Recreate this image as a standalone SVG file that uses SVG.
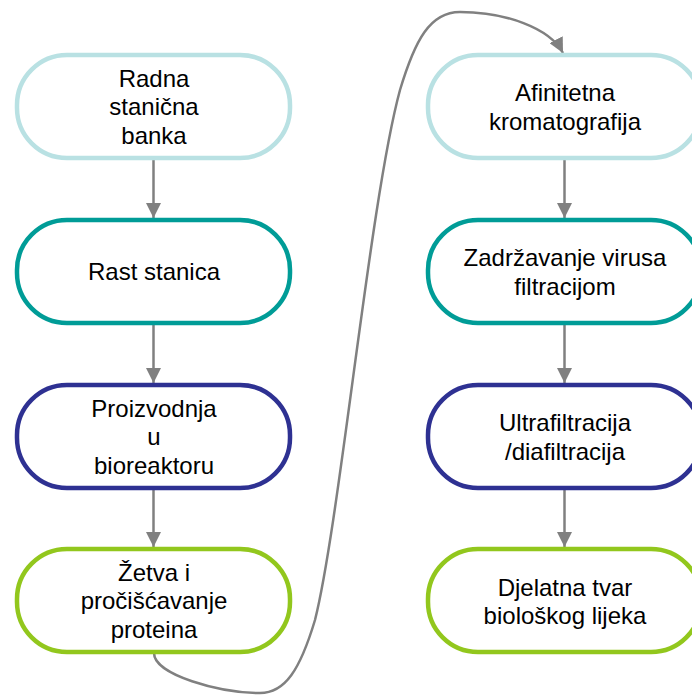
<svg xmlns="http://www.w3.org/2000/svg" width="692" height="695" viewBox="0 0 692 695">
<style>
.n{fill:#fff;stroke-width:4.5}
.c1{stroke:#b9e1e3}.c2{stroke:#009c97}.c3{stroke:#2e3192}.c4{stroke:#92c71d}
text{font-family:"Liberation Sans",Arial,sans-serif;font-size:24px;fill:#000;text-anchor:middle}
.e{fill:none;stroke:#808080;stroke-width:2.5}
</style>
<defs>
<marker id="ah" viewBox="0 0 10 10" refX="10" refY="5" markerWidth="6" markerHeight="6" markerUnits="strokeWidth" orient="auto">
<path d="M0,0 L10,5 L0,10 z" fill="#808080"/>
</marker>
</defs>
<g id="connectors">
<path class="e" d="M153.5,158 V218" marker-end="url(#ah)"/>
<path class="e" d="M153.5,323 V383" marker-end="url(#ah)"/>
<path class="e" d="M153.5,488 V547" marker-end="url(#ah)"/>
<path class="e" d="M564.5,158 V218" marker-end="url(#ah)"/>
<path class="e" d="M564.5,323 V383" marker-end="url(#ah)"/>
<path class="e" d="M564.5,488 V547" marker-end="url(#ah)"/>
<path class="e" d="M154,653 C154,675 220,693 260,693 C285,693 300,670 315,620 C340,520 370,200 400,90 C415,40 430,12 460,12 C505,12 550,28 563,53" marker-end="url(#ah)"/>
</g>
<g id="n1"><rect class="n c1" x="17" y="55" width="273" height="103" rx="50"/>
<text x="154" y="86.5">Radna</text><text x="154" y="115">stanična</text><text x="154" y="143.5">banka</text></g>
<g id="n2"><rect class="n c2" x="17" y="220" width="273" height="103" rx="50"/>
<text x="154" y="280">Rast stanica</text></g>
<g id="n3"><rect class="n c3" x="17" y="385" width="273" height="103" rx="50"/>
<text x="154" y="416.5">Proizvodnja</text><text x="154" y="445">u</text><text x="154" y="473.5">bioreaktoru</text></g>
<g id="n4"><rect class="n c4" x="17" y="549" width="273" height="103" rx="50"/>
<text x="154" y="580.5">Žetva i</text><text x="154" y="609">pročišćavanje</text><text x="154" y="637.5">proteina</text></g>
<g id="n5"><rect class="n c1" x="428" y="55" width="273" height="103" rx="50"/>
<text x="565" y="101">Afinitetna</text><text x="565" y="129.5">kromatografija</text></g>
<g id="n6"><rect class="n c2" x="428" y="220" width="273" height="103" rx="50"/>
<text x="565" y="266">Zadržavanje virusa</text><text x="565" y="294.5">filtracijom</text></g>
<g id="n7"><rect class="n c3" x="428" y="385" width="273" height="103" rx="50"/>
<text x="565" y="431">Ultrafiltracija</text><text x="565" y="459.5">/diafiltracija</text></g>
<g id="n8"><rect class="n c4" x="428" y="549" width="273" height="103" rx="50"/>
<text x="565" y="595.5">Djelatna tvar</text><text x="565" y="624">biološkog lijeka</text></g>
</svg>
